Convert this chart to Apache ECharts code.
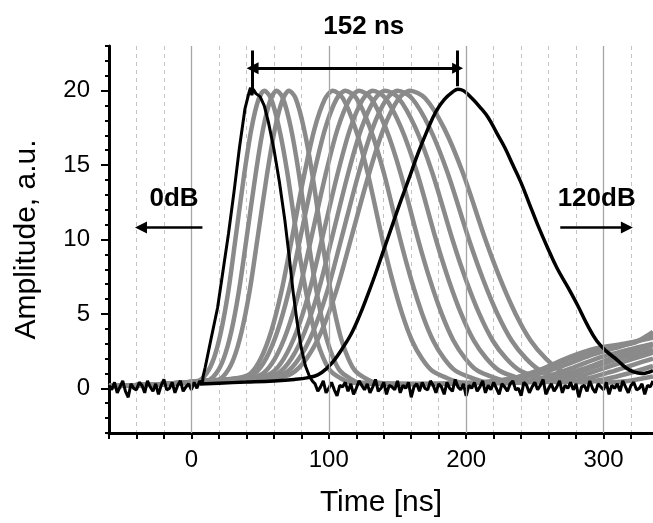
<!DOCTYPE html>
<html>
<head>
<meta charset="utf-8">
<script src="https://cdn.jsdelivr.net/npm/echarts@6/dist/echarts.min.js"></script>
<style>
html,body{margin:0;padding:0;background:#fff;}
#chart{width:653px;height:523px;}
</style>
</head>
<body>
<div id="chart"></div>
<script>
// ---------- axes ----------
const timeMin = -60, timeMax = 336, timeStep = 20;
const timeLabels = [0, 100, 200, 300];
const solidGridTimes = [0, 100, 200, 300];
const ampMin = -3, ampMax = 23;
const ampLabels = [0, 5, 10, 15, 20];

// ---------- 0 dB trace (black, noisy baseline) ----------
const noiseStep = 2;
const ref0dBPreStart = -60;
const ref0dBPreNoise = [0.2,-0.1,0.4,-0.3,0.1,0.5,-0.2,-0.6,0.3,0.0,-0.1,0.4,0.2,-0.3,0.5,0.1,-0.2,0.3,-0.4,0.2,0.6,-0.1,0.0,0.4,-0.3,0.2,0.5,-0.2,0.1,0.3,-0.1,0.4,0.0,0.5,0.3];
const ref0dBPulse = [[8.5,0.8],[10,1.4],[14,3.2],[19,5.4],[23,7.9],[27,10.4],[31,13.2],[35,16.2],[39,18.8],[42,19.9],[43,20.2],[44,19.7],[45,20.1],[47,19.8],[50,19.6],[53,19.0],[56,17.9],[60,16.1],[64,13.9],[68,11.3],[71,9.0],[74,6.5],[77,4.4],[80,2.7],[83,1.5],[86,0.8],[88,0.5]];
const ref0dBPostStart = 90;
const ref0dBPostNoise = [0.3,-0.2,0.1,0.5,-0.3,0.0,0.4,-0.1,-0.5,0.2,
0.1,0.4,-0.2,0.3,-0.4,0.0,0.5,0.2,-0.1,0.3,
-0.3,0.1,0.6,-0.2,0.0,0.4,-0.4,0.2,0.1,-0.1,
0.5,-0.3,0.2,0.0,0.4,-0.6,0.1,0.3,-0.2,0.4,
0.0,-0.1,0.5,0.2,-0.3,0.3,0.1,-0.4,0.4,0.0,
-0.2,0.6,0.1,-0.1,0.3,-0.5,0.2,0.0,0.4,-0.2,
0.1,0.5,-0.3,0.2,-0.1,0.4,0.0,-0.4,0.3,0.1,
-0.2,0.3,0.5,-0.1,0.0,-0.5,0.4,0.2,-0.3,0.1,
0.4,-0.1,0.2,0.6,-0.4,0.0,0.3,-0.2,0.1,0.5,
-0.3,0.2,0.0,0.4,-0.1,0.3,-0.6,0.1,0.2,-0.2,
0.5,0.0,-0.3,0.3,0.1,-0.1,0.4,-0.4,0.2,0.0,
0.3,-0.2,0.5,0.1,-0.3,0.2,0.4,-0.1,0.0,0.3,
-0.4,0.2,0.1,0.5];

// ---------- 120 dB trace (black, smooth) ----------
const ref120dB = [[6,0.3],[20,0.35],[40,0.42],[60,0.5],[75,0.6],[85,0.72],[92,0.9],[98,1.3],[104,1.9],[110,2.7],[116,3.6],[122,4.8],[128,6.2],[134,7.7],[140,9.3],[146,10.9],[152,12.5],[158,14.0],[165,15.8],[172,17.4],[178,18.6],[184,19.4],[190,19.9],[194,20.1],[198,20.0],[204,19.5],[210,18.9],[216,18.2],[222,17.2],[228,16.2],[234,15.0],[240,13.8],[246,12.4],[252,11.0],[259,9.5],[266,8.1],[274,6.8],[281,5.6],[288,4.3],[295,3.2],[302,2.5],[310,1.9],[316,1.4],[322,1.1],[328,1.0],[336,1.2]];

// ---------- intermediate attenuations (grey) ----------
const grey1 = [[-60,0.15],[-20,0.3],[4.7,0.5],[11,1.0],[16.3,2.0],[21.5,3.8],[26.8,6.5],[32,10],[38.3,14.3],[43.6,17.4],[48.8,19.4],[53,20],[57.8,19.5],[63.8,17.5],[69.8,14.5],[77,10],[81.8,7.3],[86.6,5.0],[91.4,3.2],[96.2,2.0],[101,1.2],[108.2,0.7],[115.4,0.4],[150,0.3],[200,0.35],[230,0.6],[255,1.3],[275,2.1],[295,2.7],[315,3.0],[336,3.4]];
const grey2 = [[-60,0.15],[-20,0.3],[11.4,0.5],[18,1.0],[23.5,2.0],[29,3.8],[34.5,6.5],[40,10],[46.6,14.3],[52.1,17.4],[57.6,19.4],[62,20],[66.6,19.5],[72.4,17.5],[78.1,14.5],[85,10],[89.6,7.3],[94.2,5.0],[98.8,3.2],[103.4,2.0],[108,1.2],[114.9,0.7],[121.8,0.4],[160,0.3],[210,0.4],[240,0.8],[262,1.5],[282,2.2],[300,2.7],[320,3.0],[336,3.6]];
const grey3 = [[-60,0.15],[-20,0.3],[18.1,0.5],[25,1.0],[30.8,2.0],[36.5,3.8],[42.3,6.5],[48,10],[54.9,14.3],[60.7,17.4],[66.4,19.4],[71,20],[75.8,19.5],[81.8,17.5],[87.8,14.5],[95,10],[99.8,7.3],[104.6,5.0],[109.4,3.2],[114.2,2.0],[119,1.2],[126.2,0.7],[133.4,0.4],[170,0.3],[220,0.45],[250,0.9],[270,1.5],[290,2.2],[308,2.7],[325,3.2],[336,3.8]];
const grey4 = [[-60,0.15],[-20,0.3],[10,0.5],[34,0.7],[43,1.0],[50.5,2.0],[58,3.8],[65.5,6.5],[73,10],[82,14.3],[89.5,17.4],[97,19.4],[103,20],[110.2,19.5],[119.2,17.5],[128.2,14.5],[139,10],[146.2,7.3],[153.4,5.0],[160.6,3.2],[167.8,2.0],[175,1.2],[185.8,0.7],[196.6,0.4],[230,0.35],[255,0.7],[278,1.4],[298,2.1],[318,2.6],[336,3.0]];
const grey5 = [[-60,0.15],[-20,0.3],[10,0.5],[36.1,0.7],[46,1.0],[54.3,2.0],[62.5,3.8],[70.8,6.5],[79,10],[88.9,14.3],[97.2,17.4],[105.4,19.4],[112,20],[120,19.5],[130,17.5],[140,14.5],[152,10],[160,7.3],[168,5.0],[176,3.2],[184,2.0],[192,1.2],[204,0.7],[216,0.4],[240,0.4],[262,0.7],[285,1.3],[305,2.0],[322,2.5],[336,2.9]];
const grey6 = [[-60,0.15],[-20,0.3],[10,0.5],[41.5,0.7],[52,1.0],[60.8,2.0],[69.5,3.8],[78.3,6.5],[87,10],[97.5,14.3],[106.3,17.4],[115,19.4],[122,20],[130.6,19.5],[141.4,17.5],[152.1,14.5],[165,10],[173.6,7.3],[182.2,5.0],[190.8,3.2],[199.4,2.0],[208,1.2],[220.9,0.7],[233.8,0.4],[250,0.45],[272,0.8],[292,1.4],[312,2.0],[336,2.6]];
const grey7 = [[-60,0.15],[-20,0.3],[10,0.5],[46.9,0.7],[58,1.0],[67.3,2.0],[76.5,3.8],[85.8,6.5],[95,10],[106.1,14.3],[115.4,17.4],[124.6,19.4],[132,20],[141.2,19.5],[152.7,17.5],[164.2,14.5],[178,10],[187.2,7.3],[196.4,5.0],[205.6,3.2],[214.8,2.0],[224,1.2],[237.8,0.7],[251.6,0.4],[265,0.5],[285,0.9],[305,1.5],[322,2.0],[336,2.4]];
const grey8 = [[-60,0.15],[-20,0.3],[10,0.5],[51.3,0.7],[63,1.0],[72.8,2.0],[82.5,3.8],[92.3,6.5],[102,10],[113.7,14.3],[123.5,17.4],[133.2,19.4],[141,20],[150.8,19.5],[163.1,17.5],[175.3,14.5],[190,10],[199.8,7.3],[209.6,5.0],[219.4,3.2],[229.2,2.0],[239,1.2],[253.7,0.7],[268.4,0.4],[285,0.6],[305,1.1],[322,1.6],[336,2.0]];
const grey9 = [[-60,0.15],[-20,0.3],[10,0.5],[55.7,0.7],[68,1.0],[78.3,2.0],[88.5,3.8],[98.8,6.5],[109,10],[121.3,14.3],[131.6,17.4],[141.8,19.4],[150,20],[160.4,19.5],[173.4,17.5],[186.4,14.5],[202,10],[212.4,7.3],[222.8,5.0],[233.2,3.2],[243.6,2.0],[254,1.2],[269.6,0.7],[285.2,0.4],[300,0.6],[318,1.0],[336,1.5]];
const grey10 = [[-60,0.15],[-20,0.3],[10,0.5],[60.1,0.7],[73,1.0],[83.8,2.0],[94.5,3.8],[105.3,6.5],[116,10],[128.9,14.3],[139.7,17.4],[150.4,19.4],[159,20],[170,19.5],[183.8,17.5],[197.5,14.5],[214,10],[225,7.3],[236,5.0],[247,3.2],[258,2.0],[269,1.2],[285.5,0.7],[302,0.4],[318,0.5],[336,0.8]];
const greyTraces = [grey1, grey2, grey3, grey4, grey5, grey6, grey7, grey8, grey9, grey10];

// ---------- annotations (data units) ----------
const spanStart = 44.5, spanEnd = 193.8;          // peaks of 0 dB and 120 dB
const spanArrowAmp = 21.5, spanBarTop = 22.7, spanBarBottom = [20.1, 20.3];
const spanText = '152 ns', spanTextTime = 125.5, spanTextAmp = 24.3;
const dbTexts = ['0dB', '120dB'];
const dbTextTimes = [-12.7, 295];
const dbTextAmp = 12.7;
const dbArrowAmp = 10.8;
const dbArrowFrom = [8, 268.5];
const dbArrowTo = [-36.7, 317];

// ---------- build ----------
const FONT = "'Liberation Sans', Arial, Helvetica, sans-serif";
const GREY = '#8a8a8a';

const trace0dB = [];
ref0dBPreNoise.forEach((v, i) => trace0dB.push([ref0dBPreStart + i * noiseStep, v]));
ref0dBPulse.forEach(p => trace0dB.push(p));
ref0dBPostNoise.forEach((v, i) => trace0dB.push([ref0dBPostStart + i * noiseStep, v]));

const series = [];
series.push({
  type: 'line', data: [], z: 1, silent: true,
  markLine: {
    silent: true, symbol: 'none', label: {show: false},
    lineStyle: {type: 'solid', color: '#a6a6a6', width: 1.3},
    data: solidGridTimes.map(t => ({xAxis: t}))
  }
});
greyTraces.forEach(tr => series.push({
  type: 'line', data: tr, showSymbol: false, smooth: 0.3, z: 3,
  lineStyle: {color: GREY, width: 4.5}, silent: true
}));
series.push({type: 'line', data: ref120dB, showSymbol: false, smooth: 0.4, z: 4,
  lineStyle: {color: '#000', width: 3.5}, silent: true});
series.push({type: 'line', data: trace0dB, showSymbol: false, smooth: false, z: 4,
  lineStyle: {color: '#000', width: 3}, silent: true});
series.push({
  type: 'lines', coordinateSystem: 'cartesian2d', z: 6, silent: true,
  symbol: ['triangle', 'triangle'], symbolSize: [11, 12],
  lineStyle: {color: '#000', width: 3, opacity: 1},
  data: [{coords: [[spanEnd, spanArrowAmp], [spanStart, spanArrowAmp]]}]
});
series.push({
  type: 'lines', coordinateSystem: 'cartesian2d', z: 6, silent: true,
  symbol: ['none', 'none'],
  lineStyle: {color: '#000', width: 3, opacity: 1},
  data: [
    {coords: [[spanStart, spanBarTop], [spanStart, spanBarBottom[0]]]},
    {coords: [[spanEnd, spanBarTop], [spanEnd, spanBarBottom[1]]]}
  ]
});
series.push({
  type: 'lines', coordinateSystem: 'cartesian2d', z: 6, silent: true,
  symbol: ['none', 'triangle'], symbolSize: [11, 12],
  lineStyle: {color: '#000', width: 2.5, opacity: 1},
  data: dbArrowFrom.map((f, i) => ({coords: [[f, dbArrowAmp], [dbArrowTo[i], dbArrowAmp]]}))
});

const chart = echarts.init(document.getElementById('chart'), null, {renderer: 'canvas'});
chart.setOption({
  animation: false,
  backgroundColor: '#fff',
  textStyle: {fontFamily: FONT},
  grid: {left: 109, right: 0, top: 46, bottom: 86, containLabel: false},
  xAxis: {
    type: 'value', min: timeMin, max: timeMax, interval: timeStep,
    axisLine: {show: true, onZero: false, lineStyle: {color: '#000', width: 3}},
    axisTick: {show: true, length: 6, lineStyle: {color: '#000', width: 2}},
    axisLabel: {formatter: v => (timeLabels.indexOf(v) >= 0 ? String(v) : ''),
      fontSize: 24, color: '#000', margin: 15, fontFamily: FONT, showMaxLabel: false},
    splitLine: {show: true, lineStyle: {type: [4, 4], color: '#c4c4c4', width: 1}},
    name: 'Time [ns]', nameLocation: 'middle', nameGap: 55,
    nameTextStyle: {fontSize: 30, color: '#000', fontFamily: FONT}
  },
  yAxis: [{
    type: 'value', min: ampMin, max: ampMax, interval: 1,
    axisLine: {show: true, onZero: false, lineStyle: {color: '#000', width: 3}},
    axisTick: {show: true, length: 4, lineStyle: {color: '#000', width: 2}},
    axisLabel: {show: false},
    splitLine: {show: false},
    name: 'Amplitude, a.u.', nameLocation: 'middle', nameGap: 67, nameRotate: 90,
    nameTextStyle: {fontSize: 30, color: '#000', fontFamily: FONT}
  }, {
    type: 'value', min: ampMin, max: ampMax, position: 'left', offset: 0,
    axisLine: {show: false, onZero: false},
    axisTick: {show: true, length: 8, customValues: ampLabels, lineStyle: {color: '#000', width: 2}},
    axisLabel: {show: true, customValues: ampLabels, fontSize: 24, color: '#000', margin: 19, fontFamily: FONT},
    splitLine: {show: false}
  }],
  series: series
});

// text annotations placed through the axes' own scales
const texts = [[spanText, spanTextTime, spanTextAmp]]
  .concat(dbTexts.map((t, i) => [t, dbTextTimes[i], dbTextAmp]));
chart.setOption({
  graphic: texts.map(([txt, t, a]) => {
    const p = chart.convertToPixel({gridIndex: 0}, [t, a]);
    return {
      type: 'text', x: p[0], y: p[1], z: 100, silent: true,
      style: {text: txt, fill: '#000', font: "bold 26px 'Liberation Sans', Arial, sans-serif",
        textAlign: 'center', textVerticalAlign: 'middle'}
    };
  })
});
</script>
</body>
</html>
